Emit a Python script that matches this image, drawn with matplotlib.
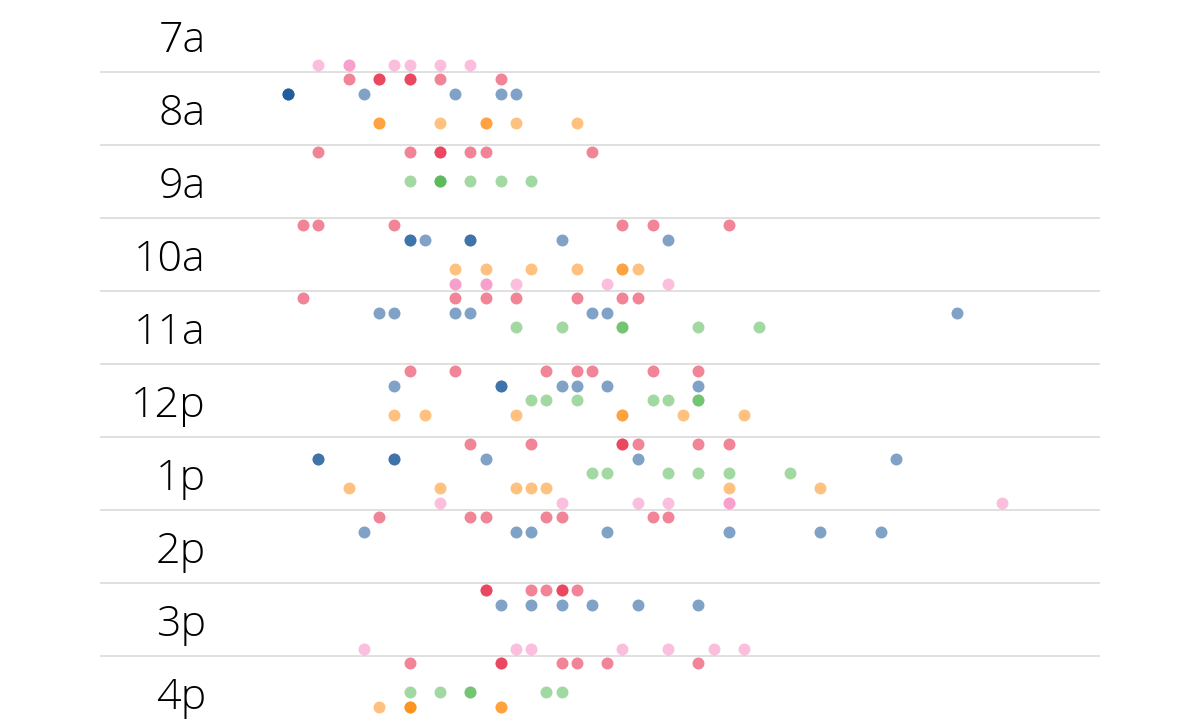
import matplotlib
matplotlib.use("Agg")
import matplotlib.pyplot as plt

# ========== DATA ==========
# one row per hour, five lanes per row; values are the minute slot of each dot
# (a repeated value means overlapping dots, which come out darker)
HOURS = ["7a", "8a", "9a", "10a", "11a", "12p", "1p", "2p", "3p", "4p"]

RED = [
    [],
    [4, 6, 6, 8, 8, 10, 14],
    [2, 8, 10, 10, 12, 13, 20],
    [1, 2, 7, 22, 24, 29],
    [1, 11, 13, 15, 19, 22, 23],
    [8, 11, 17, 19, 20, 24, 27],
    [12, 16, 22, 22, 23, 27, 29],
    [6, 12, 13, 17, 18, 24, 25],
    [13, 13, 16, 17, 18, 18, 19],
    [8, 14, 14, 18, 19, 21, 27],
]
BLUE = [
    [],
    [0, 0, 0, 5, 11, 14, 15],
    [],
    [8, 8, 9, 12, 12, 18, 25],
    [6, 7, 11, 12, 20, 21, 44],
    [7, 14, 14, 18, 19, 21, 27],
    [2, 2, 7, 7, 13, 23, 40],
    [5, 15, 16, 21, 29, 35, 39],
    [14, 16, 18, 20, 23, 27],
    [],
]
GREEN = [
    [],
    [],
    [8, 10, 10, 10, 12, 14, 16],
    [],
    [15, 18, 22, 22, 27, 31],
    [16, 17, 19, 24, 25, 27, 27],
    [20, 21, 25, 27, 29, 33],
    [],
    [],
    [8, 10, 12, 12, 17, 18],
]
ORANGE = [
    [],
    [6, 6, 10, 13, 13, 15, 19],
    [],
    [11, 13, 16, 19, 22, 22, 23],
    [],
    [7, 9, 15, 22, 22, 26, 30],
    [4, 10, 15, 16, 17, 29, 35],
    [],
    [],
    [6, 8, 8, 8, 14, 14],
]
PINK = [
    [2, 4, 4, 7, 8, 10, 12],
    [],
    [],
    [11, 11, 13, 13, 15, 21, 25],
    [],
    [],
    [10, 18, 23, 25, 29, 29, 47],
    [],
    [5, 15, 16, 22, 25, 28, 30],
    [],
]

LANES = [RED, BLUE, GREEN, ORANGE, PINK]
COLORS = ["#e40b2e", "#00478f", "#47b345", "#ff8500", "#f981bd"]

# ========== PLOT ==========
fig = plt.figure(figsize=(12, 7.27), dpi=100)
ax = fig.add_axes([0, 0, 1, 1])
ax.set_xlim(-288 / 15.2, 912 / 15.2)
ax.set_ylim(728 / 73, 1 / 73)
ax.axis("off")

n_lanes = len(LANES)
ax.hlines(range(1, len(HOURS)), 100 / 1200, 1100 / 1200,
          transform=ax.get_yaxis_transform(), color="#e0e0e0", lw=1.4, zorder=1)

for j, (lane, color) in enumerate(zip(LANES, COLORS)):
    for i, mins in enumerate(lane):
        if not mins:
            continue
        y = [i + (j + 0.5) / n_lanes] * len(mins)
        ax.scatter(mins, y, s=74, color=color, alpha=0.5, linewidths=0, zorder=2)

for i, label in enumerate(HOURS):
    ax.text(206 / 1200, i + 0.726, label, transform=ax.get_yaxis_transform(),
            ha="right", va="baseline", fontsize=31, family="Open Sans",
            fontweight=300, color="#000000")

fig.savefig("out.png", dpi=100)
